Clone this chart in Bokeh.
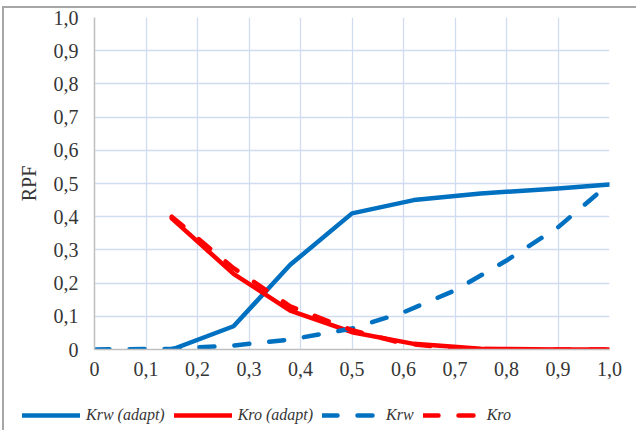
from bokeh.plotting import figure
from bokeh.layouts import column
from bokeh.models import Range1d, FixedTicker, Legend, LegendItem
from bokeh.embed import file_html
from bokeh.resources import INLINE

# Data
krw_adapt_x = [0.15, 0.27, 0.38, 0.50, 0.62, 0.75, 0.90, 1.00]
krw_adapt_y = [0.0, 0.07, 0.255, 0.41, 0.45, 0.47, 0.485, 0.497]
kro_adapt_x = [0.15, 0.27, 0.38, 0.50, 0.62, 0.75, 0.90, 1.00]
kro_adapt_y = [0.395, 0.228, 0.117, 0.052, 0.017, 0.002, 0.0, 0.0]
krw_x = [0.0, 0.15, 0.27, 0.38, 0.50, 0.60, 0.70, 0.80, 0.90, 1.00]
krw_y = [0.0, 0.002, 0.012, 0.030, 0.063, 0.112, 0.178, 0.268, 0.368, 0.50]
kro_x = [0.15, 0.27, 0.38, 0.50, 0.60, 0.70, 0.80, 0.90, 1.00]
kro_y = [0.40, 0.245, 0.13, 0.058, 0.018, 0.004, 0.0, 0.0, 0.0]

x_ticks = [0, 0.1, 0.2, 0.3, 0.4, 0.5, 0.6, 0.7, 0.8, 0.9, 1.0]
x_labels = ["0", "0,1", "0,2", "0,3", "0,4", "0,5", "0,6", "0,7", "0,8", "0,9", "1,0"]
y_ticks = [0, 0.1, 0.2, 0.3, 0.4, 0.5, 0.6, 0.7, 0.8, 0.9, 1.0]
y_labels = ["0", "0,1", "0,2", "0,3", "0,4", "0,5", "0,6", "0,7", "0,8", "0,9", "1,0"]
series_names = ["Krw (adapt)", "Kro (adapt)", "Krw", "Kro"]

BLUE = "#0070c0"
RED = "#ff0000"
FONT = "Liberation Serif"
TXT = "#363636"
GRID = "#d0ddf1"
LW = 4.5
DASH = "15 20"
styles = [
    dict(line_color=BLUE, line_width=LW, line_cap="round", line_join="round"),
    dict(line_color=RED, line_width=LW, line_cap="round", line_join="round"),
    dict(line_color=BLUE, line_width=LW, line_dash=DASH, line_cap="round", line_join="round"),
    dict(line_color=RED, line_width=LW, line_dash=DASH, line_cap="round", line_join="round"),
]

p = figure(width=632, height=384, output_backend="svg", toolbar_location=None,
           x_range=Range1d(0, 1.0), y_range=Range1d(0, 1.0),
           min_border_left=90, min_border_right=27, min_border_top=9, min_border_bottom=43)
p.outline_line_color = None
p.background_fill_color = "white"
p.border_fill_color = "white"
p.frame_align = False

for ax in (p.xaxis[0], p.yaxis[0]):
    ax.axis_line_color = "#bfbfbf"
    ax.axis_line_width = 1.5
    ax.major_tick_line_color = None
    ax.minor_tick_line_color = None
    ax.major_label_text_font = FONT
    ax.major_label_text_font_size = "20px"
    ax.major_label_text_color = TXT

p.xaxis.ticker = FixedTicker(ticks=x_ticks)
p.yaxis.ticker = FixedTicker(ticks=y_ticks)
p.xaxis.major_label_overrides = {t: l for t, l in zip(x_ticks, x_labels)}
p.yaxis.major_label_overrides = {t: l for t, l in zip(y_ticks, y_labels)}
p.xaxis.major_label_standoff = 6
p.yaxis.major_label_standoff = 10

p.yaxis.axis_label = "RPF"
p.yaxis.axis_label_text_font = FONT
p.yaxis.axis_label_text_font_size = "20px"
p.yaxis.axis_label_text_font_style = "normal"
p.yaxis.axis_label_text_color = TXT
p.yaxis.axis_label_standoff = 11

p.xgrid.grid_line_color = GRID
p.ygrid.grid_line_color = GRID
p.xgrid.grid_line_width = 1.3
p.ygrid.grid_line_width = 1.3

for xs, ys, st in zip([krw_adapt_x, kro_adapt_x, krw_x, kro_x],
                      [krw_adapt_y, kro_adapt_y, krw_y, kro_y], styles):
    p.line(xs, ys, **st)

# legend strip
nan = float("nan")
lg = figure(width=632, height=38, output_backend="svg", toolbar_location=None,
            x_range=Range1d(0, 1), y_range=Range1d(0, 1),
            x_axis_location=None, y_axis_location=None,
            min_border=0, min_border_left=0, min_border_right=0, min_border_top=0, min_border_bottom=0)
lg.outline_line_color = None
lg.xgrid.visible = False
lg.ygrid.visible = False
lg.frame_align = False
rs = [lg.line(x=[nan, nan], y=[nan, nan], **st) for st in styles]

legend = Legend(items=[LegendItem(label=n, renderers=[r]) for n, r in zip(series_names, rs)],
                orientation="horizontal", location=(18, 5))
legend.glyph_width = 58
legend.glyph_height = 20
legend.label_standoff = 6
legend.spacing = 9
legend.padding = 0
legend.margin = 0
legend.border_line_color = None
legend.background_fill_alpha = 0
legend.label_text_font = FONT
legend.label_text_font_style = "italic"
legend.label_text_font_size = "16px"
legend.label_text_color = TXT
lg.add_layout(legend)

layout = column(p, lg, spacing=0)
layout.styles = {"border-top": "2px solid #a6a6a6", "border-left": "2px solid #a6a6a6",
                 "margin-top": "6px", "margin-left": "2px"}
open("out.html", "w").write(file_html(layout, INLINE))
